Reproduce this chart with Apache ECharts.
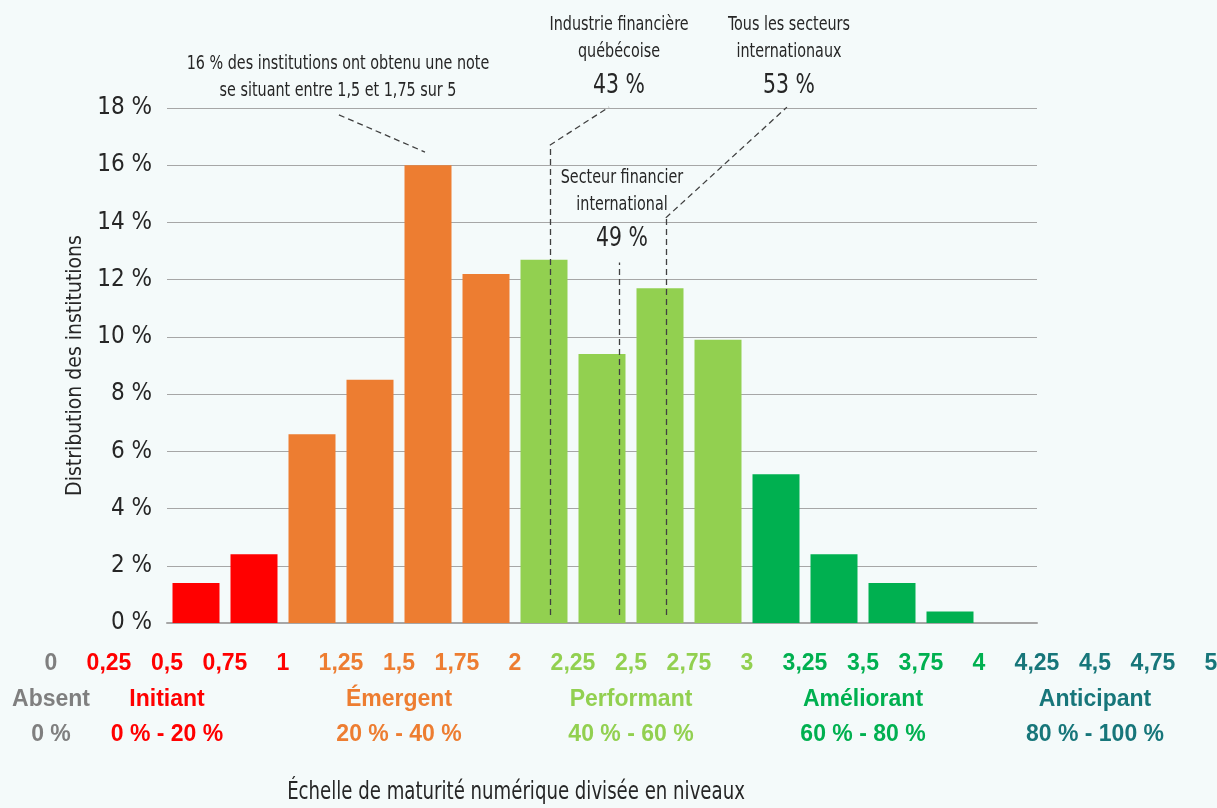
<!DOCTYPE html>
<html>
<head>
<meta charset="utf-8">
<script src="https://cdn.jsdelivr.net/npm/echarts@6/dist/echarts.min.js"></script>
<style>
  html, body { margin: 0; padding: 0; background: #f4fafa; }
  #chart { width: 1217px; height: 808px; }
</style>
</head>
<body>
<div id="chart"></div>
<script>
// Tick labels of the 0–5 maturity score, in quarter steps
const scoreTicks = ['0', '0,25', '0,5', '0,75', '1', '1,25', '1,5', '1,75', '2',
  '2,25', '2,5', '2,75', '3', '3,25', '3,5', '3,75', '4', '4,25', '4,5', '4,75', '5'];

// Score bins shown as bars (lower bound of each bin) and their share of institutions (%)
const binStarts = [0.5, 0.75, 1, 1.25, 1.5, 1.75, 2, 2.25, 2.5, 2.75, 3, 3.25, 3.5, 3.75, 4];
const binLabels = ['0,5–0,75', '0,75–1', '1–1,25', '1,25–1,5', '1,5–1,75', '1,75–2', '2–2,25',
  '2,25–2,5', '2,5–2,75', '2,75–3', '3–3,25', '3,25–3,5', '3,5–3,75', '3,75–4', '4–4,25'];
const distribution = [1.4, 2.4, 6.6, 8.5, 16.0, 12.2, 12.7, 9.4, 11.7, 9.9, 5.2, 2.4, 1.4, 0.4, null];

// Maturity levels
const levelNames = ['Absent', 'Initiant', 'Émergent', 'Performant', 'Améliorant', 'Anticipant'];
const levelRanges = ['0 %', '0 % - 20 %', '20 % - 40 %', '40 % - 60 %', '60 % - 80 %', '80 % - 100 %'];
const levelCenters = [0, 0.5, 1.5, 2.5, 3.5, 4.5];
const levelUpper = [0, 1, 2, 3, 4, 5];

// Benchmarks (% of the maximum score)
const benchmarkNames = ['Industrie financière\nquébécoise', 'Secteur financier\ninternational', 'Tous les secteurs\ninternationaux'];
const benchmarkValues = [43, 49, 53];

const levelColors = ['#7f7f7f', '#ff0000', '#ed7d31', '#92d050', '#00b050', '#17767a'];
const NARROW = "'DejaVu Sans Condensed', sans-serif";
const BOLD = "'Liberation Sans', Arial, sans-serif";
const INK = '#262626';
const GRID_LINE = '#a6a6a6';
const SQUEEZE = 0.84;   // horizontal squeeze for the condensed captions

const W = 1217, H = 808;
const PLOT_TOP = 108, PLOT_BOTTOM = 185;
// the full-height scale grid shares the 0–18 % scale of the bar grid
const fullMax = 18 * (H - PLOT_BOTTOM) / (H - PLOT_BOTTOM - PLOT_TOP);

function levelOf(v) {
  for (let i = 0; i < levelUpper.length; i++) if (v <= levelUpper[i] + 1e-9) return i;
  return levelUpper.length - 1;
}
function binLevel(start) {
  for (let i = 0; i < levelUpper.length; i++) if (start < levelUpper[i] - 1e-9) return i;
  return levelUpper.length - 1;
}

// rich styles for the axis labels, one per level colour
const rich = {};
levelColors.forEach((c, i) => {
  rich['c' + i] = { color: c, fontFamily: BOLD, fontWeight: 'bold', fontSize: 23, lineHeight: 35, align: 'center' };
});

function scoreLabel(v) {
  return '{c' + levelOf(v) + '|' + scoreTicks[Math.round(v * 4)] + '}';
}
function levelLabel(v) {
  const c = levelCenters.findIndex(x => Math.abs(x - v) < 1e-9);
  if (c < 0) return '';
  return '{c' + c + '|' + levelNames[c] + '}\n{c' + c + '|' + levelRanges[c] + '}';
}

const pos = v => v * 5 / 100;           // % of maximum score -> score
const vLineTop = [16.7, 12.6, 14.16];
const dashed = { color: '#404040', width: 1.3, type: [6, 4] };

const markLines = [];
benchmarkValues.forEach((v, i) => {
  markLines.push([{ coord: [pos(v), 0.28] }, { coord: [pos(v), vLineTop[i]] }]);
});
// leader segments up to the labels
markLines.push([{ coord: [pos(benchmarkValues[0]), vLineTop[0]] }, { coord: [2.405, 18.03] }]);
markLines.push([{ coord: [pos(benchmarkValues[2]), vLineTop[2]] }, { coord: [3.172, 18.03] }]);
markLines.push([{ coord: [1.241, 17.76] }, { coord: [1.612, 16.46] }]);

function benchmarkText(i) {
  const lines = benchmarkNames[i].split('\n').map(t => '{t|' + t + '}');
  return lines.join('\n') + '\n{v|' + benchmarkValues[i] + ' %}';
}
const benchRich = {
  t: { fontFamily: NARROW, fontSize: 19, lineHeight: 27, fill: INK, align: 'center' },
  v: { fontFamily: NARROW, fontSize: 27, lineHeight: 40, fill: INK, align: 'center' }
};
const benchPos = [[619, 12], [622, 165], [789, 12]];

const scaleGrid = { left: 51, right: W - 1211, top: 0, bottom: PLOT_BOTTOM, outerBoundsMode: 'none' };
const hiddenAxisParts = { axisLine: { show: false }, axisTick: { show: false }, splitLine: { show: false } };

const chart = echarts.init(document.getElementById('chart'));
chart.setOption({
  backgroundColor: '#f4fafa',
  animation: false,
  grid: [
    scaleGrid,
    { left: 167, right: W - 1037, top: PLOT_TOP, bottom: PLOT_BOTTOM, outerBoundsMode: 'none' },
    Object.assign({}, scaleGrid)
  ],
  xAxis: [
    {
      gridIndex: 0, type: 'value', min: 0, max: 5, interval: 0.25, ...hiddenAxisParts,
      axisLabel: {
        margin: 23, formatter: scoreLabel, rich: rich, verticalAlign: 'top',
        showMinLabel: true, showMaxLabel: true, hideOverlap: false
      }
    },
    {
      gridIndex: 1, type: 'category', data: binLabels, boundaryGap: true,
      axisLine: { lineStyle: { color: GRID_LINE, width: 2 } },
      axisTick: { length: 8, lineStyle: { color: GRID_LINE, width: 2 } },
      axisLabel: { show: false }
    },
    {
      gridIndex: 2, type: 'value', min: 0, max: 5, interval: 0.5, ...hiddenAxisParts,
      axisLabel: {
        margin: 59, formatter: levelLabel, rich: rich, verticalAlign: 'top', lineHeight: 35,
        showMinLabel: true, showMaxLabel: true, hideOverlap: false
      }
    }
  ],
  yAxis: [
    { gridIndex: 0, type: 'value', min: 0, max: fullMax, show: false },
    {
      gridIndex: 1, type: 'value', min: 0, max: 18, interval: 2,
      axisLine: { show: false }, axisTick: { show: false },
      splitLine: { lineStyle: { color: GRID_LINE, width: 1 } },
      axisLabel: { formatter: '{value} %', fontFamily: NARROW, fontSize: 24, color: INK, margin: 15 },
      name: 'Distribution des institutions', nameLocation: 'middle', nameRotate: 90, nameGap: 72,
      nameTextStyle: { fontFamily: NARROW, fontSize: 21, color: INK }
    },
    { gridIndex: 2, type: 'value', min: 0, max: fullMax, show: false }
  ],
  series: [
    {
      type: 'bar', xAxisIndex: 1, yAxisIndex: 1, barWidth: 47,
      data: distribution.map((v, i) => ({ value: v, itemStyle: { color: levelColors[binLevel(binStarts[i])] } }))
    },
    {
      type: 'line', xAxisIndex: 0, yAxisIndex: 0, data: [], silent: true,
      markLine: { symbol: 'none', silent: true, label: { show: false }, lineStyle: dashed, data: markLines }
    },
    { type: 'line', xAxisIndex: 2, yAxisIndex: 2, data: [], silent: true }
  ],
  graphic: [
    {
      type: 'text', x: 338, y: 78, scaleX: SQUEEZE, silent: true,
      style: {
        text: '16 % des institutions ont obtenu une note\nse situant entre 1,5 et 1,75 sur 5',
        font: '19px ' + NARROW, lineHeight: 27, fill: INK, align: 'center', verticalAlign: 'middle'
      }
    },
    ...benchmarkValues.map((v, i) => ({
      type: 'text', x: benchPos[i][0], y: benchPos[i][1], scaleX: SQUEEZE, silent: true,
      style: { text: benchmarkText(i), rich: benchRich, align: 'center', verticalAlign: 'top', fill: INK }
    })),
    {
      type: 'text', x: 516, y: 793, scaleX: SQUEEZE, silent: true,
      style: {
        text: 'Échelle de maturité numérique divisée en niveaux',
        font: '24px ' + NARROW, fill: INK, align: 'center', verticalAlign: 'middle'
      }
    }
  ]
});
</script>
</body>
</html>
